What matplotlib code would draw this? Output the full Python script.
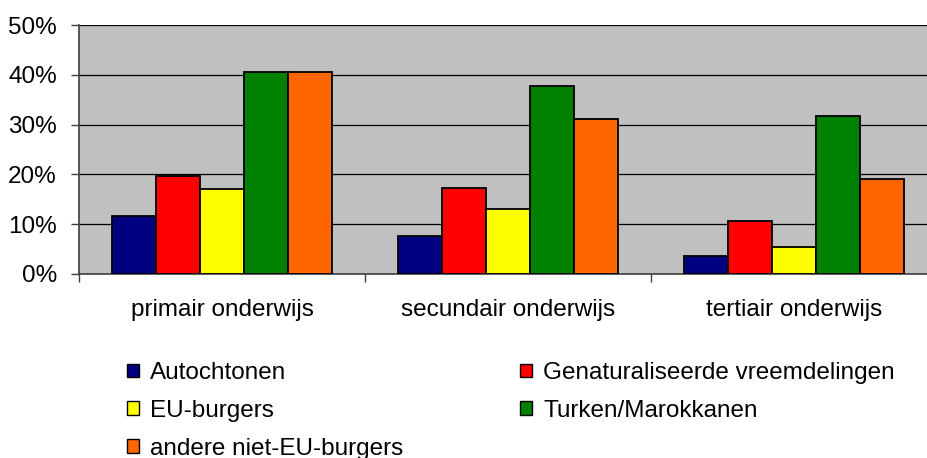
import numpy as np
import matplotlib.pyplot as plt
from matplotlib.patches import Patch

plt.rcParams['font.family'] = ['Liberation Sans', 'DejaVu Sans']

categories = ['primair onderwijs', 'secundair onderwijs', 'tertiair onderwijs']
series = ['Autochtonen', 'Genaturaliseerde vreemdelingen', 'EU-burgers',
          'Turken/Marokkanen', 'andere niet-EU-burgers']
colors = ['#000080', '#FF0000', '#FFFF00', '#008000', '#FF6600']

autochtonen = [11.7, 7.7, 3.7]
genaturaliseerd = [19.7, 17.2, 10.6]
eu_burgers = [17.1, 13.1, 5.5]
turken_marokkanen = [40.6, 37.8, 31.8]
andere_niet_eu = [40.6, 31.1, 19.0]
values = [autochtonen, genaturaliseerd, eu_burgers, turken_marokkanen, andere_niet_eu]

fig = plt.figure(figsize=(9.27, 4.58), dpi=100)
ax = fig.add_axes([79/927, (458-274)/458, 858/927, (274-25)/458])
ax.set_facecolor('#C0C0C0')

x = np.arange(len(categories))
w = 0.154
for i, (vals, c) in enumerate(zip(values, colors)):
    ax.bar(x + (i - 2) * w, vals, w, color=c, edgecolor='black', linewidth=1.3, zorder=3)

ax.set_xlim(-0.5, 2.5)
ax.set_ylim(0, 50)
ax.set_yticks(np.arange(0, 51, 10))
ax.set_yticklabels(['%d%%' % v for v in range(0, 51, 10)], fontsize=17.5)
ax.yaxis.grid(True, color='black', linewidth=0.9, zorder=1)
ax.set_axisbelow(True)

ax.set_xticks(x)
ax.set_xticklabels(categories, fontsize=17.5)
ax.tick_params(axis='x', which='major', length=0, pad=18)
ax.set_xticks([-0.5, 0.5, 1.5, 2.5], minor=True)
ax.tick_params(axis='x', which='minor', length=6, color='#404040', width=1)
ax.tick_params(axis='y', length=6, color='#404040', width=1, pad=10)

for s in ['top', 'right']:
    ax.spines[s].set_visible(False)
for s in ['left', 'bottom']:
    ax.spines[s].set_color('#404040')
    ax.spines[s].set_linewidth(1.2)

order = [0, 2, 4, 1, 3]
handles = [Patch(facecolor=colors[i], edgecolor='black', linewidth=1) for i in order]
labels = [series[i] for i in order]
fig.legend(handles, labels, ncol=2, loc='upper left', bbox_to_anchor=(115/927, 1 - 350/458),
           frameon=False, fontsize=17.5, handlelength=0.5, handleheight=0.5,
           handletextpad=0.45, columnspacing=4.8, labelspacing=0.65, borderpad=0)

fig.savefig('out.png', dpi=100)
